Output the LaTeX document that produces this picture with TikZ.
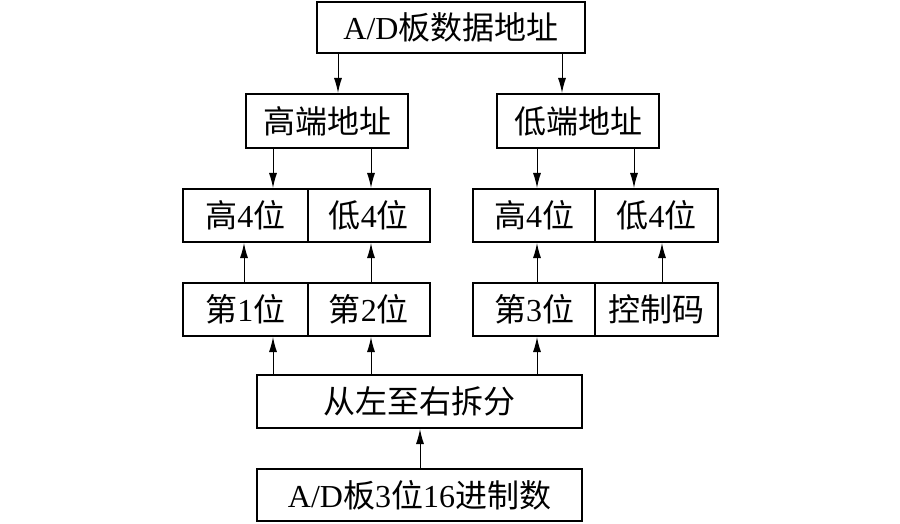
\documentclass[tikz,border=0pt]{standalone}
\usepackage{fontspec}
\setmainfont{Liberation Serif}
\newfontfamily\cjk{Noto Sans CJK SC}
\usetikzlibrary{arrows.meta}
\begin{document}
\begin{tikzpicture}[x=1pt,y=-1pt,
  box/.style={draw,line width=2pt,inner sep=0pt,font=\fontsize{32}{38}\selectfont},
  cell/.style={box,minimum height=53pt},
  arr/.style={line width=1pt,-{Latex[length=15pt,width=8pt]}}]
\useasboundingbox (0,0) rectangle (900,524);
% boxes
\node[box,minimum width=268pt,minimum height=51pt] (top) at (451,27.5) {A/D{\cjk 板数据地址}};
\node[box,minimum width=162pt,minimum height=54pt] (hi) at (327,121) {\cjk 高端地址};
\node[box,minimum width=162pt,minimum height=54pt] (lo) at (578,121) {\cjk 低端地址};
% row 3
\node[cell,minimum width=124.5pt] (a1) at (245.25,215.5) {{\cjk 高}4{\cjk 位}};
\node[cell,minimum width=122.5pt] (a2) at (368.75,215.5) {{\cjk 低}4{\cjk 位}};
\node[cell,minimum width=122pt] (b1) at (534,215.5) {{\cjk 高}4{\cjk 位}};
\node[cell,minimum width=123pt] (b2) at (656.5,215.5) {{\cjk 低}4{\cjk 位}};
% row 4
\node[cell,minimum width=124.5pt] (c1) at (245.25,309.5) {{\cjk 第}1{\cjk 位}};
\node[cell,minimum width=122.5pt] (c2) at (368.75,309.5) {{\cjk 第}2{\cjk 位}};
\node[cell,minimum width=122pt] (d1) at (534,309.5) {{\cjk 第}3{\cjk 位}};
\node[cell,minimum width=123pt] (d2) at (656.5,309.5) {\cjk 控制码};
% row 5
\node[box,minimum width=325pt,minimum height=53pt] (split) at (419.5,401.5) {\cjk 从左至右拆分};
\node[box,minimum width=325pt,minimum height=52pt] (src) at (419.5,495) {A/D{\cjk 板}3{\cjk 位}16{\cjk 进制数}};
% x positions of connectors
\coordinate (xa) at (338,0);
\coordinate (xb) at (562,0);
\coordinate (xc) at (273,0);
\coordinate (xd) at (371,0);
\coordinate (xe) at (537,0);
\coordinate (xf) at (634,0);
\coordinate (xg) at (244,0);
\coordinate (xh) at (662,0);
\coordinate (xi) at (420,0);
% connectors down
\draw[arr] (top.south -| xa) -- (hi.north -| xa);
\draw[arr] (top.south -| xb) -- (lo.north -| xb);
\draw[arr] (hi.south -| xc) -- (a1.north -| xc);
\draw[arr] (hi.south -| xd) -- (a2.north -| xd);
\draw[arr] (lo.south -| xe) -- (b1.north -| xe);
\draw[arr] (lo.south -| xf) -- (b2.north -| xf);
% connectors up
\draw[arr] (c1.north -| xg) -- (a1.south -| xg);
\draw[arr] (c2.north -| xd) -- (a2.south -| xd);
\draw[arr] (d1.north -| xe) -- (b1.south -| xe);
\draw[arr] (d2.north -| xh) -- (b2.south -| xh);
\draw[arr] (split.north -| xc) -- (c1.south -| xc);
\draw[arr] (split.north -| xd) -- (c2.south -| xd);
\draw[arr] (split.north -| xe) -- (d1.south -| xe);
\draw[arr] (src.north -| xi) -- (split.south -| xi);
\end{tikzpicture}
\end{document}
